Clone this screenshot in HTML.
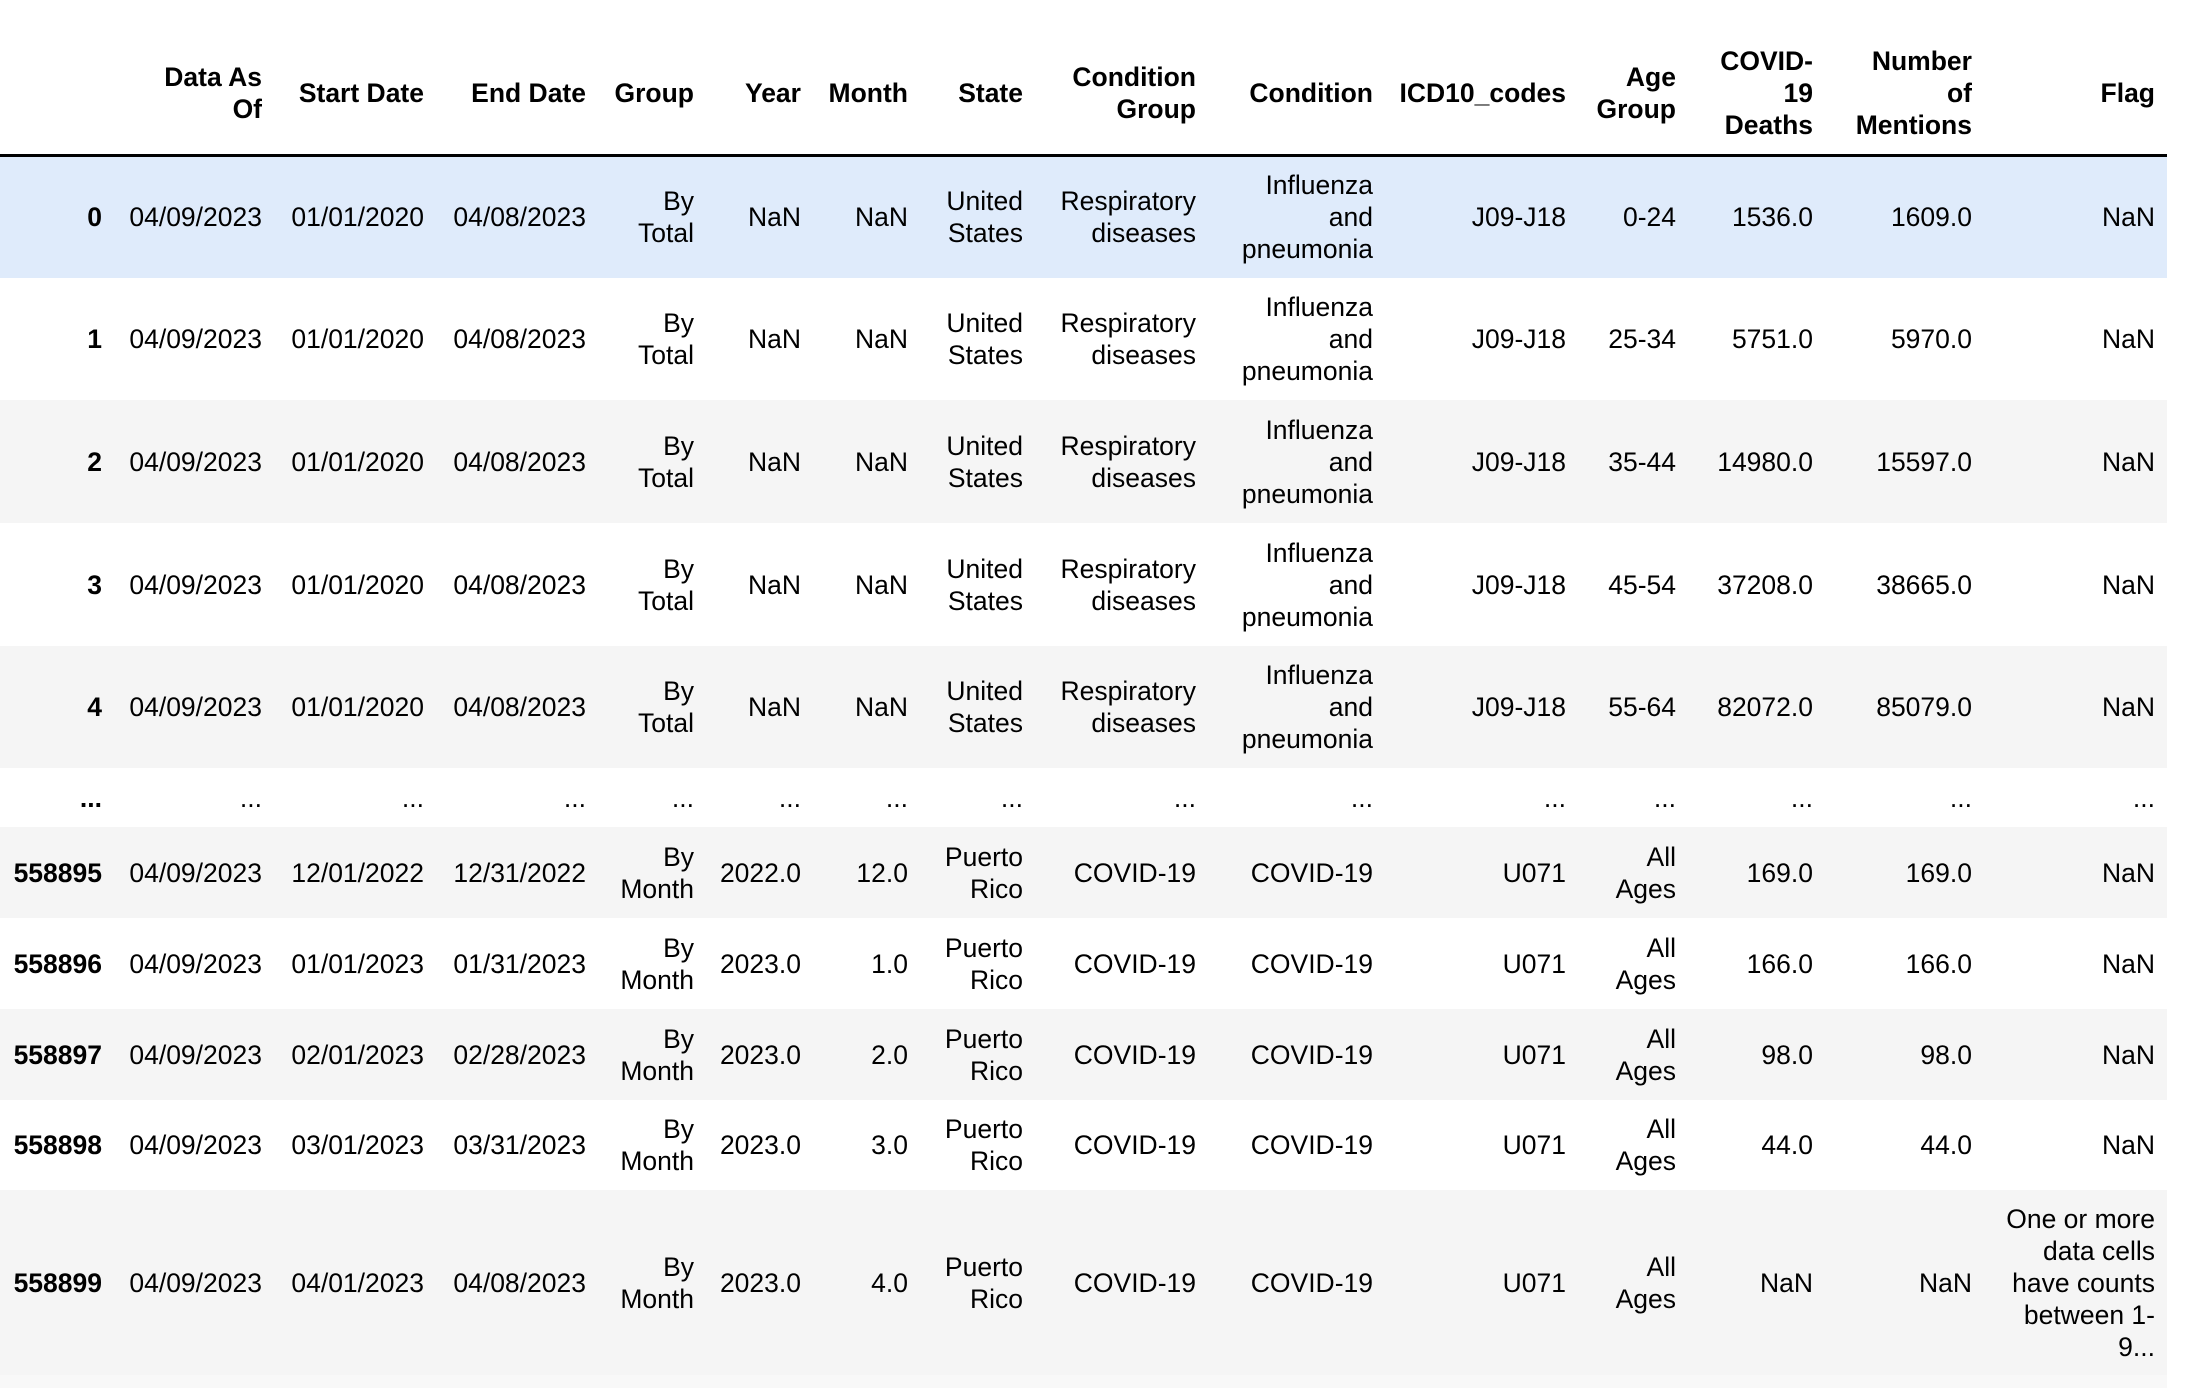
<!DOCTYPE html>
<html><head><meta charset="utf-8">
<style>
html,body{margin:0;padding:0;background:#fff;width:2188px;height:1388px;overflow:hidden}
table{border-collapse:collapse;table-layout:fixed;width:2167px;font-family:"Liberation Sans",Arial,sans-serif;font-size:26.5px;line-height:32px;color:#000}
td,th{padding:0;text-align:right;vertical-align:middle;white-space:nowrap;overflow:visible}
th{font-weight:bold}
thead tr{height:155px}
thead th{border-bottom:3px solid #000;padding-top:32px}
tbody th{font-weight:bold}
.hl{background:#dfebfb}
.g{background:#f5f5f5}
.w{background:#fff}
.bottom{position:absolute;left:0;top:1375px;width:2167px;height:13px;background:#f8f8f8}
</style></head>
<body>
<table>
<colgroup><col style="width:102px"><col style="width:160px"><col style="width:162px"><col style="width:162px"><col style="width:108px"><col style="width:107px"><col style="width:107px"><col style="width:115px"><col style="width:173px"><col style="width:177px"><col style="width:193px"><col style="width:110px"><col style="width:137px"><col style="width:159px"><col style="width:183px"><col style="width:12px"></colgroup>
<thead><tr>
<th></th><th>Data As<br>Of</th><th>Start Date</th><th>End Date</th><th>Group</th><th>Year</th><th>Month</th><th>State</th><th>Condition<br>Group</th><th>Condition</th><th>ICD10_codes</th><th>Age<br>Group</th><th>COVID-<br>19<br>Deaths</th><th>Number<br>of<br>Mentions</th><th>Flag</th><th></th>
</tr></thead>
<tbody>
<tr class="hl" style="height:123px"><th>0</th><td>04/09/2023</td><td>01/01/2020</td><td>04/08/2023</td><td>By<br>Total</td><td>NaN</td><td>NaN</td><td>United<br>States</td><td>Respiratory<br>diseases</td><td>Influenza<br>and<br>pneumonia</td><td>J09-J18</td><td>0-24</td><td>1536.0</td><td>1609.0</td><td>NaN</td><td></td></tr>
<tr class="w" style="height:122px"><th>1</th><td>04/09/2023</td><td>01/01/2020</td><td>04/08/2023</td><td>By<br>Total</td><td>NaN</td><td>NaN</td><td>United<br>States</td><td>Respiratory<br>diseases</td><td>Influenza<br>and<br>pneumonia</td><td>J09-J18</td><td>25-34</td><td>5751.0</td><td>5970.0</td><td>NaN</td><td></td></tr>
<tr class="g" style="height:123px"><th>2</th><td>04/09/2023</td><td>01/01/2020</td><td>04/08/2023</td><td>By<br>Total</td><td>NaN</td><td>NaN</td><td>United<br>States</td><td>Respiratory<br>diseases</td><td>Influenza<br>and<br>pneumonia</td><td>J09-J18</td><td>35-44</td><td>14980.0</td><td>15597.0</td><td>NaN</td><td></td></tr>
<tr class="w" style="height:123px"><th>3</th><td>04/09/2023</td><td>01/01/2020</td><td>04/08/2023</td><td>By<br>Total</td><td>NaN</td><td>NaN</td><td>United<br>States</td><td>Respiratory<br>diseases</td><td>Influenza<br>and<br>pneumonia</td><td>J09-J18</td><td>45-54</td><td>37208.0</td><td>38665.0</td><td>NaN</td><td></td></tr>
<tr class="g" style="height:122px"><th>4</th><td>04/09/2023</td><td>01/01/2020</td><td>04/08/2023</td><td>By<br>Total</td><td>NaN</td><td>NaN</td><td>United<br>States</td><td>Respiratory<br>diseases</td><td>Influenza<br>and<br>pneumonia</td><td>J09-J18</td><td>55-64</td><td>82072.0</td><td>85079.0</td><td>NaN</td><td></td></tr>
<tr class="w" style="height:59px"><th>...</th><td>...</td><td>...</td><td>...</td><td>...</td><td>...</td><td>...</td><td>...</td><td>...</td><td>...</td><td>...</td><td>...</td><td>...</td><td>...</td><td>...</td><td></td></tr>
<tr class="g" style="height:91px"><th>558895</th><td>04/09/2023</td><td>12/01/2022</td><td>12/31/2022</td><td>By<br>Month</td><td>2022.0</td><td>12.0</td><td>Puerto<br>Rico</td><td>COVID-19</td><td>COVID-19</td><td>U071</td><td>All<br>Ages</td><td>169.0</td><td>169.0</td><td>NaN</td><td></td></tr>
<tr class="w" style="height:91px"><th>558896</th><td>04/09/2023</td><td>01/01/2023</td><td>01/31/2023</td><td>By<br>Month</td><td>2023.0</td><td>1.0</td><td>Puerto<br>Rico</td><td>COVID-19</td><td>COVID-19</td><td>U071</td><td>All<br>Ages</td><td>166.0</td><td>166.0</td><td>NaN</td><td></td></tr>
<tr class="g" style="height:91px"><th>558897</th><td>04/09/2023</td><td>02/01/2023</td><td>02/28/2023</td><td>By<br>Month</td><td>2023.0</td><td>2.0</td><td>Puerto<br>Rico</td><td>COVID-19</td><td>COVID-19</td><td>U071</td><td>All<br>Ages</td><td>98.0</td><td>98.0</td><td>NaN</td><td></td></tr>
<tr class="w" style="height:90px"><th>558898</th><td>04/09/2023</td><td>03/01/2023</td><td>03/31/2023</td><td>By<br>Month</td><td>2023.0</td><td>3.0</td><td>Puerto<br>Rico</td><td>COVID-19</td><td>COVID-19</td><td>U071</td><td>All<br>Ages</td><td>44.0</td><td>44.0</td><td>NaN</td><td></td></tr>
<tr class="g" style="height:185px"><th>558899</th><td>04/09/2023</td><td>04/01/2023</td><td>04/08/2023</td><td>By<br>Month</td><td>2023.0</td><td>4.0</td><td>Puerto<br>Rico</td><td>COVID-19</td><td>COVID-19</td><td>U071</td><td>All<br>Ages</td><td>NaN</td><td>NaN</td><td>One or more<br>data cells<br>have counts<br>between 1-<br>9...</td><td></td></tr>
</tbody>
</table>
<div class="bottom"></div>
</body></html>
